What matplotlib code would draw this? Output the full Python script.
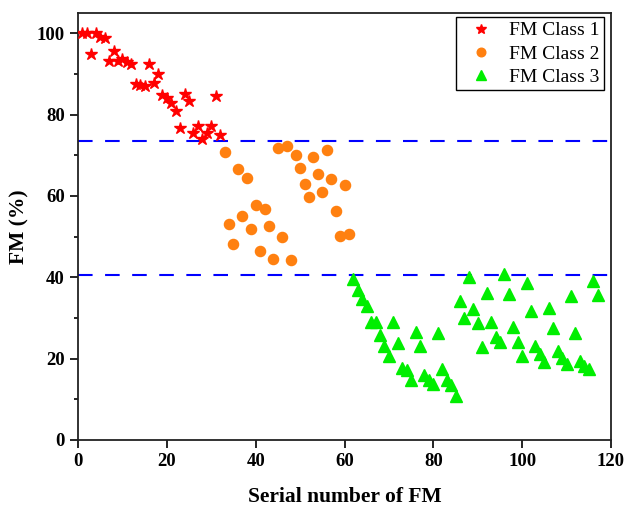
import matplotlib
matplotlib.use("Agg")
import matplotlib.pyplot as plt
from matplotlib.ticker import MultipleLocator

plt.rcParams['font.family'] = ['Liberation Serif', 'DejaVu Serif']

# Class 1 (stars)
x1 = list(range(1, 33))
y1 = [100, 100, 94.8, 100, 99.2, 98.8, 93.1, 95.6, 93.1, 93.6, 93.0, 92.5, 87.6, 87.2,
      87.0, 92.5, 87.9, 89.9, 84.9, 84.0, 82.9, 80.8, 76.7, 85.2, 83.4, 75.6, 77.1, 73.9,
      75.6, 77.3, 84.7, 75.1]

# Class 2 (circles)
x2 = list(range(33, 62))
y2 = [70.7, 53.2, 48.2, 66.6, 55.1, 64.5, 52.0, 57.7, 46.4, 56.7, 52.7, 44.4, 71.8, 49.9,
      72.4, 44.3, 70.0, 66.8, 62.9, 59.7, 69.5, 65.3, 60.9, 71.3, 64.3, 56.2, 50.2, 62.7, 50.6]

# Class 3 (triangles)
x3 = list(range(62, 118))
y3 = [39.7, 36.9, 34.6, 33.0, 29.1, 28.9, 25.8, 23.1, 20.6, 28.9, 23.9, 17.7, 17.1, 14.7,
      26.5, 23.2, 16.0, 14.7, 13.7, 26.2, 17.4, 14.7, 13.5, 10.9, 34.2, 30.1, 40.1, 32.2,
      28.7, 22.8, 36.2, 29.1, 25.4, 24.0, 40.8, 36.0, 27.7, 24.2, 20.7, 38.5, 31.7, 23.2,
      21.1, 19.2, 32.5, 27.6, 21.9, 20.2, 18.8, 35.4, 26.4, 19.5, 18.2, 17.4, 39.1, 35.6]

thresholds = [73.6, 40.6]
labels = ["FM Class 1", "FM Class 2", "FM Class 3"]
xticks = [0, 20, 40, 60, 80, 100, 120]
yticks = [0, 20, 40, 60, 80, 100]

fig = plt.figure(figsize=(6.27, 5.09), dpi=100)
ax = fig.add_axes([78/627, 69/509, 533/627, 427/509])

for t in thresholds:
    ax.axhline(t, color='#0000FF', lw=1.5, dashes=(7, 6), zorder=1)

ax.plot(x1, y1, ls='none', marker='*', ms=9, color='#FF0000', mec='#FF0000', label=labels[0], zorder=3)
ax.plot(x2, y2, ls='none', marker='o', ms=7.3, color='#FF8010', mec='#FF8010', label=labels[1], zorder=3)
ax.plot(x3, y3, ls='none', marker='^', ms=8, color='#00EE00', mec='#00EE00', label=labels[2], zorder=3)

ax.set_xlim(0, 120)
ax.set_ylim(0, 105)
ax.set_xticks(xticks)
ax.set_yticks(yticks)
ax.yaxis.set_minor_locator(MultipleLocator(10))
ax.tick_params(axis='both', which='major', direction='out', length=6, width=1.2, labelsize=13.5)
ax.tick_params(axis='y', which='minor', direction='out', length=3, width=1.2)
for lab in ax.get_xticklabels() + ax.get_yticklabels():
    lab.set_fontweight('bold')
for sp in ax.spines.values():
    sp.set_linewidth(1.3)
    sp.set_color('#222222')

ax.set_xlabel("Serial number of FM", fontsize=15.5, fontweight='bold', labelpad=12)
ax.set_ylabel("FM (%)", fontsize=15.5, fontweight='bold', labelpad=5)

leg = ax.legend(loc='upper right', bbox_to_anchor=(1 - 7/533, 1 - 4/427), borderaxespad=0,
                fontsize=14, fancybox=False, edgecolor='black', framealpha=1,
                handletextpad=0.4, labelspacing=0.28, borderpad=0.25, handlelength=2.06,
                markerscale=0.85)
leg.get_frame().set_linewidth(1.0)

fig.savefig("out.png", dpi=100)
